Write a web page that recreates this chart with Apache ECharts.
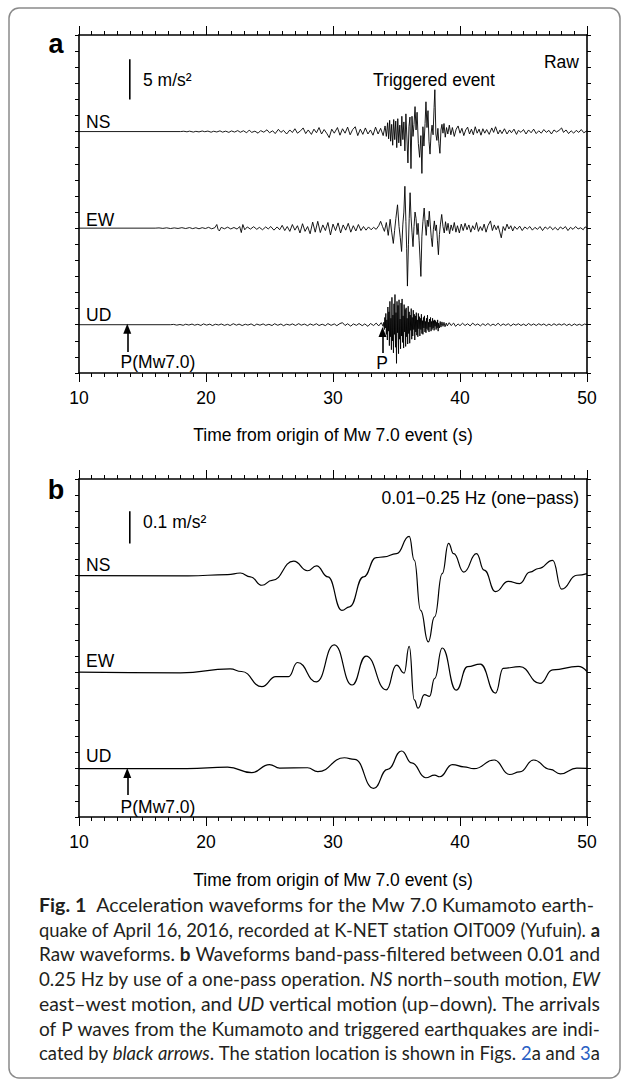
<!DOCTYPE html>
<html><head><meta charset="utf-8">
<script src="https://cdn.jsdelivr.net/npm/echarts@6.0.0/dist/echarts.min.js"></script>
<style>html,body{margin:0;padding:0;background:#fff;}#c{width:627px;height:1088px;}</style>
</head><body><div id="c"></div>
<script>
// ---------------- DATA ----------------
const timeTicks = [10, 20, 30, 40, 50];
const traceNames = ['NS', 'EW', 'UD'];
// trace baselines (m/s^2) in each panel's stacked axis
const offsetsRaw = [30, 18, 6];
const offsetsFilt = [0.75, 0.45, 0.15];
// raw acceleration (m/s^2), flat list: time s, value, time s, value, ...
const nsRaw = [10,0, 18.0,0, 18.25,0.04, 18.5,-0.03, 18.7,0.05, 19.0,-0.06, 19.2,0.03, 19.45,-0.04, 19.7,0.07, 19.9,-0.02, 20.15,0.06, 20.4,-0.08, 20.6,0.04, 20.85,-0.05, 21.1,0.09, 21.3,-0.07, 21.55,0.05, 21.8,-0.1, 22.0,0.08, 22.25,-0.06, 22.5,0.12, 22.7,-0.09, 22.95,0.1, 23.2,-0.15, 23.4,0.18, 23.6,-0.1, 23.85,0.05, 24.1,-0.2, 24.3,0.12, 24.55,-0.08, 24.8,0.22, 25.0,-0.15, 25.25,0.1, 25.45,-0.25, 25.7,0.28, 25.9,-0.1, 26.1,0.15, 26.35,-0.3, 26.6,0.2, 26.8,-0.12, 27.0,0.35, 27.2,-0.2, 27.45,0.1, 27.65,0.45, 27.85,-0.25, 28.05,0.2, 28.3,-0.35, 28.5,0.3, 28.7,-0.15, 28.9,0.5, 29.1,-0.3, 29.3,0.25, 29.5,-0.2, 29.7,-0.75, 29.9,0.3, 30.1,-0.2, 30.35,0.5, 30.55,-0.45, 30.75,0.35, 30.95,-0.2, 31.15,0.55, 31.35,-0.4, 31.55,0.25, 31.75,0.6, 31.95,-0.5, 32.15,0.3, 32.35,-0.35, 32.55,0.45, 32.75,-0.3, 32.95,0.2, 33.15,-0.45, 33.35,0.55, 33.55,-0.3, 33.75,0.4, 33.95,-0.5, 34.1,0.7, 34.2,-0.6, 34.3,1.1, 34.38,-0.9, 34.46,1.4, 34.54,-1.2, 34.62,0.9, 34.7,-1.7, 34.78,1.5, 34.86,-1.0, 34.94,1.3, 35.02,-2.0, 35.1,1.6, 35.18,-1.4, 35.26,0.8, 35.34,-1.8, 35.42,1.9, 35.5,-1.0, 35.58,1.2, 35.66,-2.4, 35.74,2.2, 35.82,-0.8, 35.9,-3.9, 35.98,0.6, 36.06,1.8, 36.14,-4.6, 36.22,1.9, 36.3,-0.6, 36.38,0.9, 36.46,3.1, 36.54,0.2, 36.62,2.4, 36.72,-1.5, 36.82,-3.2, 36.92,-0.5, 37.0,-5.2, 37.08,0.6, 37.16,-1.8, 37.25,1.0, 37.32,3.7, 37.4,0.5, 37.48,2.6, 37.56,-1.2, 37.64,-2.8, 37.72,-0.3, 37.8,0.8, 37.88,-0.4, 37.96,3.0, 38.02,5.2, 38.1,-0.3, 38.18,-1.1, 38.26,0.4, 38.34,-1.5, 38.42,-2.7, 38.5,0.2, 38.58,0.9, 38.66,-0.2, 38.74,1.0, 38.84,-0.7, 38.94,0.5, 39.04,-0.3, 39.16,0.8, 39.28,-0.4, 39.4,0.5, 39.55,-0.6, 39.7,0.3, 39.85,0.7, 40.0,-0.2, 40.15,0.4, 40.3,-0.5, 40.45,0.2, 40.6,0.55, 40.75,-0.3, 40.9,0.3, 41.05,-0.4, 41.2,0.6, 41.35,-0.2, 41.5,0.3, 41.65,-0.45, 41.8,0.35, 41.95,-0.2, 42.1,0.25, 42.3,-0.35, 42.5,0.45, 42.65,-0.1, 42.8,0.6, 43.0,-0.3, 43.15,0.2, 43.3,-0.25, 43.5,0.35, 43.7,-0.3, 43.9,0.2, 44.05,-0.15, 44.25,0.3, 44.45,-0.35, 44.6,0.15, 44.8,-0.1, 45.0,0.25, 45.2,-0.3, 45.4,0.2, 45.6,-0.15, 45.8,0.3, 46.0,-0.25, 46.2,0.1, 46.4,-0.2, 46.6,0.25, 46.8,-0.1, 47.0,0.15, 47.2,-0.3, 47.4,0.2, 47.6,-0.05, 47.8,0.15, 48.0,0.45, 48.15,-0.1, 48.35,0.2, 48.55,-0.25, 48.75,0.1, 48.95,-0.2, 49.15,0.15, 49.35,-0.1, 49.55,0.25, 49.75,-0.15, 50,0.1];
const ewRaw = [10,0, 16.0,0, 16.3,0.03, 16.6,-0.03, 16.9,0.04, 17.2,-0.05, 17.5,0.03, 17.8,-0.04, 18.1,0.06, 18.4,-0.05, 18.7,0.07, 18.95,-0.06, 19.2,0.05, 19.45,-0.08, 19.7,0.06, 19.95,-0.05, 20.2,0.1, 20.45,-0.08, 20.7,0.06, 20.85,0.45, 20.95,-0.15, 21.05,-0.35, 21.2,0.1, 21.45,-0.08, 21.7,0.12, 21.95,-0.1, 22.2,0.08, 22.45,-0.12, 22.65,0.2, 22.78,-0.55, 22.9,0.45, 23.05,-0.2, 23.25,0.15, 23.5,-0.12, 23.75,0.18, 24.0,-0.15, 24.2,0.1, 24.45,-0.2, 24.7,0.15, 24.9,-0.1, 25.1,0.2, 25.35,-0.25, 25.6,0.15, 25.8,-0.2, 26.0,0.35, 26.2,-0.3, 26.4,0.2, 26.6,-0.4, 26.8,0.45, 27.0,-0.25, 27.2,0.3, 27.4,-0.6, 27.6,0.55, 27.8,-0.4, 28.0,0.2, 28.2,-0.7, 28.4,0.75, 28.6,-0.5, 28.8,0.85, 29.0,-0.55, 29.2,0.4, 29.4,-0.3, 29.6,0.7, 29.8,-0.85, 30.0,0.5, 30.2,-0.3, 30.4,0.65, 30.6,-0.6, 30.8,0.4, 31.0,-0.25, 31.2,0.6, 31.4,-0.5, 31.6,0.3, 31.8,-0.35, 32.0,0.45, 32.2,-0.3, 32.4,0.2, 32.6,-0.25, 32.8,0.15, 33.0,-0.2, 33.2,0.1, 33.4,-0.15, 33.6,0.3, 33.75,0.85, 33.9,0.2, 34.05,-0.4, 34.2,0.7, 34.35,-0.9, 34.5,1.1, 34.62,-0.5, 34.75,-1.9, 34.85,-0.3, 34.95,1.2, 35.08,2.9, 35.2,0.2, 35.3,-1.2, 35.4,-2.9, 35.5,0.5, 35.58,2.0, 35.66,5.2, 35.74,0.8, 35.8,-2.5, 35.86,-7.2, 35.94,-2.0, 36.0,1.2, 36.07,4.4, 36.14,1.5, 36.22,-0.5, 36.3,-2.3, 36.38,0.2, 36.46,2.0, 36.54,1.2, 36.62,-0.8, 36.7,0.6, 36.78,-1.5, 36.86,-4.0, 36.92,-6.0, 37.0,-1.0, 37.08,0.8, 37.18,2.5, 37.26,0.5, 37.34,-0.9, 37.42,1.0, 37.5,0.2, 37.58,2.1, 37.66,0.4, 37.74,-1.2, 37.82,-2.3, 37.9,-0.2, 37.98,0.9, 38.06,-0.3, 38.14,0.4, 38.22,-1.5, 38.3,-3.3, 38.38,-0.8, 38.46,0.5, 38.56,1.7, 38.66,0.2, 38.76,-0.6, 38.86,0.8, 38.96,-0.3, 39.06,0.6, 39.18,-0.7, 39.3,0.4, 39.42,-0.3, 39.55,0.7, 39.68,-0.5, 39.8,0.3, 39.95,-0.6, 40.1,0.5, 40.25,-0.3, 40.4,0.6, 40.55,-0.2, 40.7,0.4, 40.85,-0.5, 41.0,0.3, 41.15,-0.2, 41.3,0.7, 41.45,-0.4, 41.6,0.2, 41.75,-0.3, 41.9,0.5, 42.05,-0.5, 42.2,0.3, 42.4,0.9, 42.55,-0.3, 42.7,0.4, 42.85,-0.2, 43.0,0.3, 43.15,-0.6, 43.25,-1.2, 43.4,0.2, 43.55,-0.3, 43.7,0.5, 43.85,-0.1, 44.0,0.3, 44.15,-0.35, 44.3,0.2, 44.5,-0.15, 44.7,0.25, 44.9,-0.3, 45.1,0.15, 45.3,-0.1, 45.5,0.2, 45.7,-0.25, 45.9,0.1, 46.1,-0.15, 46.3,0.2, 46.5,-0.3, 46.7,0.15, 46.9,-0.1, 47.1,0.2, 47.3,-0.2, 47.5,0.1, 47.7,-0.25, 47.9,0.15, 48.1,-0.1, 48.3,0.2, 48.5,-0.3, 48.7,0.1, 48.9,-0.15, 49.1,0.2, 49.3,-0.1, 49.5,0.05, 49.7,-0.2, 49.85,0.15, 50,0.05];
const udRaw = [10,0, 17.2,0, 17.45,0.04, 17.7,-0.05, 17.95,0.03, 18.2,-0.07, 18.4,0.06, 18.65,-0.04, 18.9,0.08, 19.1,-0.06, 19.35,0.05, 19.6,-0.09, 19.8,0.1, 20.05,-0.05, 20.3,0.07, 20.5,-0.1, 20.75,0.06, 21.0,-0.04, 21.2,0.09, 21.45,-0.08, 21.7,0.05, 21.9,-0.1, 22.15,0.12, 22.4,-0.06, 22.6,0.08, 22.85,-0.1, 23.1,0.06, 23.3,-0.05, 23.55,0.1, 23.8,-0.12, 24.0,0.08, 24.25,-0.06, 24.5,0.1, 24.7,-0.08, 24.95,0.05, 25.2,-0.1, 25.4,0.12, 25.65,-0.07, 25.9,0.09, 26.1,-0.12, 26.35,0.06, 26.6,-0.05, 26.8,0.1, 27.05,-0.09, 27.3,0.13, 27.5,-0.06, 27.75,0.08, 28.0,-0.12, 28.2,0.1, 28.45,-0.07, 28.7,0.12, 28.9,-0.1, 29.15,0.06, 29.4,-0.11, 29.6,0.14, 29.85,-0.08, 30.1,0.1, 30.3,-0.12, 30.55,0.15, 30.75,0.25, 30.95,-0.1, 31.15,0.12, 31.4,-0.18, 31.6,0.1, 31.85,-0.08, 32.05,0.15, 32.3,-0.12, 32.5,0.1, 32.75,-0.2, 32.95,0.15, 33.2,-0.1, 33.4,0.2, 33.6,-0.15, 33.8,0.25, 33.95,-0.2, 34.0,0.3, 34.04,-0.6, 34.08,0.9, 34.12,-0.4, 34.16,1.4, 34.2,-1.2, 34.24,0.6, 34.28,-1.9, 34.32,2.2, 34.36,-0.8, 34.4,1.6, 34.44,-2.6, 34.48,2.9, 34.52,-1.5, 34.56,0.8, 34.6,-3.1, 34.64,3.4, 34.68,-2.0, 34.72,1.2, 34.76,-3.5, 34.8,2.6, 34.84,-1.2, 34.88,3.75, 34.92,-2.8, 34.96,1.5, 35.0,-4.8, 35.04,2.9, 35.08,-1.0, 35.12,2.4, 35.16,-3.6, 35.2,3.1, 35.24,-1.8, 35.28,0.7, 35.32,-3.0, 35.36,2.7, 35.4,-1.4, 35.44,3.2, 35.48,-2.2, 35.52,1.1, 35.56,-2.9, 35.6,2.5, 35.64,-0.9, 35.68,1.9, 35.72,-2.7, 35.76,2.1, 35.8,-1.5, 35.84,0.8, 35.88,-2.4, 35.92,2.3, 35.96,-1.1, 36.0,1.6, 36.04,-2.3, 36.08,1.2, 36.12,-0.7, 36.16,2.0, 36.2,-1.8, 36.24,0.9, 36.28,-1.4, 36.32,1.8, 36.36,-0.6, 36.4,1.3, 36.44,-1.9, 36.48,1.1, 36.52,-0.9, 36.56,1.5, 36.6,-1.3, 36.64,0.6, 36.68,-1.5, 36.72,1.4, 36.76,-0.5, 36.8,1.0, 36.84,-1.4, 36.88,0.8, 36.92,-0.6, 36.96,1.3, 37.0,-1.1, 37.04,0.5, 37.08,-1.2, 37.12,0.9, 37.16,-0.4, 37.2,1.1, 37.24,-0.9, 37.28,0.4, 37.32,-1.0, 37.36,0.8, 37.4,-0.5, 37.44,1.2, 37.48,-0.7, 37.52,0.3, 37.56,-0.9, 37.6,0.7, 37.64,-0.3, 37.68,0.9, 37.72,-0.8, 37.76,0.4, 37.8,-0.6, 37.84,0.8, 37.88,-0.4, 37.92,0.5, 37.96,-0.7, 38.0,0.6, 38.04,-0.2, 38.08,0.5, 38.12,-0.6, 38.16,0.3, 38.2,-0.4, 38.24,0.6, 38.28,-0.8, 38.32,0.2, 38.38,-0.4, 38.44,0.4, 38.5,-0.3, 38.58,0.35, 38.66,-0.2, 38.74,0.3, 38.82,-0.25, 38.92,0.2, 39.0,-0.15, 39.15,0.25, 39.3,-0.1, 39.5,0.2, 39.65,-0.2, 39.85,0.1, 40.0,-0.12, 40.2,0.18, 40.4,-0.1, 40.6,0.12, 40.8,-0.15, 41.0,0.2, 41.2,-0.08, 41.4,0.1, 41.6,-0.15, 41.8,0.12, 42.0,-0.1, 42.2,0.15, 42.4,-0.12, 42.6,0.08, 42.8,-0.1, 43.0,0.18, 43.2,-0.12, 43.4,0.1, 43.6,-0.08, 43.8,0.12, 44.0,-0.15, 44.2,0.1, 44.4,-0.06, 44.6,0.12, 44.8,-0.1, 45.0,0.08, 45.2,-0.12, 45.4,0.15, 45.6,-0.08, 45.8,0.1, 46.0,-0.1, 46.2,0.12, 46.4,-0.06, 46.6,0.1, 46.8,-0.12, 47.0,0.08, 47.2,-0.1, 47.4,0.12, 47.6,-0.08, 47.8,0.1, 48.0,-0.06, 48.2,0.12, 48.4,-0.1, 48.6,0.08, 48.8,-0.12, 49.0,0.1, 49.2,-0.08, 49.4,0.06, 49.6,-0.1, 49.8,0.08, 50,0];
// band-pass filtered acceleration (m/s^2), flat list: time s, value, ...
const nsFilt = [10,0, 18.6,-0.001, 21.7,0.003, 22.7,0.008, 23.5,-0.004, 24.4,-0.03, 25.2,-0.015, 26.9,0.045, 28.0,0.015, 28.7,0.03, 29.6,-0.004, 30.7,-0.108, 31.3,-0.097, 32.4,-0.004, 33.4,0.056, 34.0,0.058, 35.0,0.068, 36.0,0.122, 36.4,0.048, 36.9,-0.108, 37.5,-0.206, 38.0,-0.128, 38.6,0.006, 39.1,0.10, 39.5,0.068, 40.3,0.011, 41.3,0.068, 41.9,0.017, 42.8,-0.05, 43.8,-0.018, 44.7,-0.025, 45.5,0.011, 46.2,0.022, 47.3,0.047, 48.0,-0.042, 49.2,0.001, 50,0.006];
const ewFilt = [10,0, 18.0,-0.002, 21.9,0.01, 22.8,0.002, 24.4,-0.045, 25.5,-0.014, 26.5,-0.014, 27.2,0.03, 28.7,-0.03, 30.1,0.085, 31.5,-0.04, 32.6,0.05, 34.2,-0.055, 35.0,0.022, 35.6,-0.003, 36.0,0.08, 36.4,-0.086, 36.7,-0.112, 37.2,-0.07, 37.6,-0.075, 38.0,-0.02, 38.6,0.075, 39.7,-0.056, 40.6,0.017, 41.6,0.025, 42.8,-0.065, 43.4,0.012, 44.7,0.017, 46.3,-0.035, 47.3,0.007, 49.3,0.018, 50,0.002];
const udFilt = [10,0, 18.5,0, 21.7,0.005, 23.6,-0.012, 25.0,0.013, 25.8,0.002, 28.0,0.003, 28.8,-0.009, 30.9,0.034, 31.7,0.029, 33.2,-0.061, 34.3,-0.002, 35.4,0.055, 36.2,0.018, 37.3,-0.028, 38.0,-0.02, 38.4,-0.025, 39.4,0.013, 40.3,0.006, 41.1,0, 42.7,0.027, 43.9,-0.018, 44.7,-0.01, 45.8,0.027, 47.1,-0.002, 47.9,-0.016, 49.2,0.002, 50,0.001];
// scale bars [time, bottom value, length]
const scaleBarRaw = [14, 34, 5];
const scaleBarFilt = [14, 0.85, 0.1];
// P arrivals: [time, tail value, tip value]
const pArrowsRaw = [[13.8, 2.6, 5.5], [33.9, 2.5, 5.1]];
const pArrowsFilt = [[13.8, 0.068, 0.137]];
// caption lines (#bold#, *italic*, ~blue~)
const captionLines = [
  '#Fig.# #1#\u2002Acceleration waveforms for the Mw 7.0 Kumamoto earth-',
  'quake of April 16, 2016, recorded at K-NET station OIT009 (Yufuin). #a#',
  'Raw waveforms. #b# Waveforms band-pass-filtered between 0.01 and',
  '0.25 Hz by use of a one-pass operation. *NS* north\u2013south motion, *EW*',
  'east\u2013west motion, and *UD* vertical motion (up\u2013down). The arrivals',
  'of P waves from the Kumamoto and triggered earthquakes are indi-',
  'cated by *black* *arrows*. The station location is shown in Figs. ~2~a and ~3~a'
];

// ---------------- CHART ----------------
function pairs(flat) { const out = []; for (let i = 0; i + 1 < flat.length; i += 2) out.push([flat[i], flat[i + 1]]); return out; }
const chart = echarts.init(document.getElementById('c'), null, {renderer: 'svg', width: 627, height: 1088});
const FONT = 'Liberation Sans, Arial, Helvetica, sans-serif';
const CAPFONT = 'Lato, sans-serif';
const FS = 17.5;
const grids = [
  {left: 79, top: 35, width: 508, height: 338},
  {left: 79, top: 479, width: 508, height: 338}
];
function xAx(g, pos) {
  return {type: 'value', gridIndex: g, position: pos, min: timeTicks[0], max: timeTicks[timeTicks.length-1], interval: 10,
    axisLine: {show: true, onZero: false, lineStyle: {color: '#000', width: 1.6}},
    axisTick: {show: true, length: 9, lineStyle: {color: '#000', width: 1}},
    minorTick: {show: true, splitNumber: 10, length: 4, lineStyle: {color: '#000', width: 1}},
    splitLine: {show: false}, minorSplitLine: {show: false},
    axisLabel: {show: pos === 'bottom', fontSize: FS, color: '#000', fontFamily: FONT, margin: 16}};
}
function yAx(g, pos, max, interval) {
  return {type: 'value', gridIndex: g, position: pos, min: 0, max: max, interval: interval,
    axisLine: {show: true, onZero: false, lineStyle: {color: '#000', width: 1.6}},
    axisTick: {show: true, length: 4, lineStyle: {color: '#000', width: 1}},
    splitLine: {show: false}, axisLabel: {show: false}};
}
const series = [];
function trace(flat, off, xi, yi, smooth, w) {
  series.push({type: 'line', xAxisIndex: xi, yAxisIndex: yi, data: pairs(flat).map(d => [d[0], d[1] + off]),
    showSymbol: false, symbol: 'none', smooth: smooth, smoothMonotone: smooth ? 'x' : undefined,
    lineStyle: {color: '#000', width: w}, silent: true, animation: false});
}
[nsRaw, ewRaw, udRaw].forEach((d, i) => trace(d, offsetsRaw[i], 0, 0, false, 0.9));
[nsFilt, ewFilt, udFilt].forEach((d, i) => trace(d, offsetsFilt[i], 2, 2, 0.5, 1.2));
function bar(sb, xi, yi) {
  series.push({type: 'line', xAxisIndex: xi, yAxisIndex: yi, data: [[sb[0], sb[1]], [sb[0], sb[1] + sb[2]]],
    showSymbol: false, symbol: 'none', lineStyle: {color: '#000', width: 1.6}, animation: false, silent: true});
}
bar(scaleBarRaw, 0, 0); bar(scaleBarFilt, 2, 2);
function arrows(list, xi, yi) {
  series.push({type: 'line', xAxisIndex: xi, yAxisIndex: yi, data: [], animation: false,
    markLine: {silent: true, animation: false, symbol: ['none', 'triangle'], symbolSize: [8, 10],
      label: {show: false}, lineStyle: {color: '#000', width: 1.6, type: 'solid'},
      data: list.map(a => [{coord: [a[0], a[1]]}, {coord: [a[0], a[2]]}])}});
}
arrows(pArrowsRaw, 0, 0); arrows(pArrowsFilt, 2, 2);

const graphic = [];
function txt(x, y, text, opt) {
  graphic.push(Object.assign({type: 'text', x: x, y: y, silent: true,
    style: Object.assign({text: text, fill: '#000', font: FS + 'px ' + FONT, textAlign: 'left', textVerticalAlign: 'middle'}, opt || {})}));
}
graphic.push({type: 'rect', shape: {x: 9, y: 8, width: 611, height: 1070, r: 10}, style: {fill: 'none', stroke: '#8a8a8a', lineWidth: 1.5}, silent: true});
txt(56, 44, 'a', {font: 'bold 27px ' + FONT, textAlign: 'center'});
txt(56, 490, 'b', {font: 'bold 27px ' + FONT, textAlign: 'center'});
txt(579, 62, 'Raw', {textAlign: 'right'});
txt(579, 498, '0.01\u22120.25 Hz (one\u2212pass)', {textAlign: 'right'});
txt(143, 80, '5 m/s\u00b2');
txt(143, 522, '0.1 m/s\u00b2');
txt(434, 80, 'Triggered event', {textAlign: 'center'});
const labYa = [122, 220, 315], labYb = [565, 661, 756];
traceNames.forEach((n, i) => { txt(86, labYa[i], n); txt(86, labYb[i], n); });
txt(158, 362, 'P(Mw7.0)', {textAlign: 'center'});
txt(382, 363, 'P', {textAlign: 'center'});
txt(158, 807, 'P(Mw7.0)', {textAlign: 'center'});
txt(333, 435, 'Time from origin of Mw 7.0 event (s)', {textAlign: 'center'});
txt(333, 880, 'Time from origin of Mw 7.0 event (s)', {textAlign: 'center'});

// caption: each line scaled horizontally to the justified width
const CAP_SIZE = 18.5;
const ctx = document.createElement('canvas').getContext('2d');
function segFont(s) { return (s.i ? 'italic ' : '') + (s.b ? 'bold ' : '') + CAP_SIZE + 'px ' + CAPFONT; }
function parseWord(w) {
  const segs = []; const re = /#([^#]*)#|\*([^*]*)\*|~([^~]*)~|([^#*~]+)/g; let m;
  while ((m = re.exec(w))) {
    if (m[1] !== undefined) segs.push({t: m[1], b: true});
    else if (m[2] !== undefined) segs.push({t: m[2], i: true});
    else if (m[3] !== undefined) segs.push({t: m[3], blue: true});
    else segs.push({t: m[4]});
  }
  segs.forEach(s => { ctx.font = segFont(s); s.w = ctx.measureText(s.t).width; });
  return segs;
}
ctx.font = segFont({});
const SPACE = ctx.measureText(' ').width;
const capLeft = 39, capRight = 600, capY0 = 905, capDy = 24.7;
captionLines.forEach((line, li) => {
  const words = line.split(' ').map(parseWord);
  const total = words.reduce((a, w) => a + w.reduce((b, s) => b + s.w, 0), 0) + SPACE * (words.length - 1);
  const right = li === 0 ? 594 : capRight;
  const sc = (right - capLeft) / total;
  const children = [];
  let x = 0;
  words.forEach(w => {
    w.forEach(s => {
      children.push({type: 'text', x: x, y: 0, silent: true,
        style: {text: s.t, fill: s.blue ? '#2a5fc4' : '#231f20', font: segFont(s), textVerticalAlign: 'middle'}});
      x += s.w;
    });
    x += SPACE;
  });
  graphic.push({type: 'group', x: capLeft, y: capY0 + li * capDy, scaleX: sc, silent: true, children: children});
});

chart.setOption({
  animation: false,
  grid: grids.map(g => Object.assign({outerBoundsMode: 'none', containLabel: false}, g)),
  xAxis: [xAx(0, 'bottom'), xAx(0, 'top'), xAx(1, 'bottom'), xAx(1, 'top')],
  yAxis: [yAx(0, 'left', 42, 2), yAx(0, 'right', 42, 2), yAx(1, 'left', 1.05, 0.05), yAx(1, 'right', 1.05, 0.05)],
  series: series,
  graphic: graphic
});
</script></body></html>
